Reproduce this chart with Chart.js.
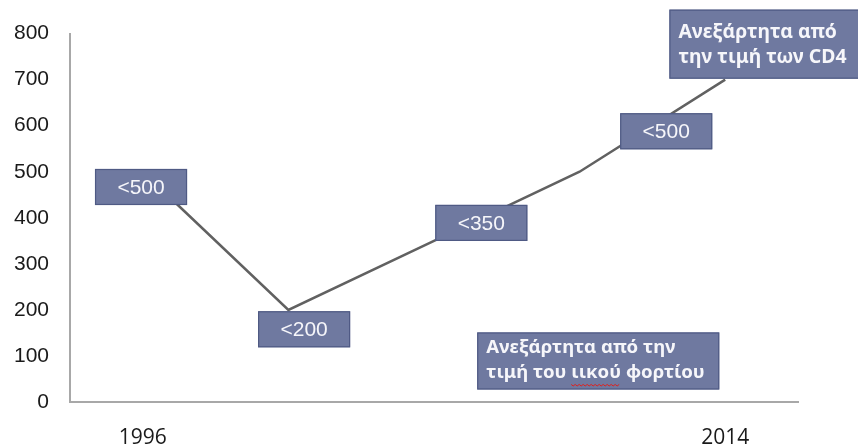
<!DOCTYPE html>
<html>
<head>
<meta charset="utf-8">
<script src="https://cdn.jsdelivr.net/npm/chart.js@4/dist/chart.umd.min.js"></script>
<style>
  html, body { margin: 0; padding: 0; background: #fff; }
  #wrap { width: 858px; height: 447px; }
</style>
</head>
<body>
<div id="wrap"><canvas id="chart"></canvas></div>
<script>
// data
const years = ['1996', '', '', '', '2014'];
const cd4 = [500, 200, 350, 500, 700];
const yTicks = [0, 100, 200, 300, 400, 500, 600, 700, 800];

// annotation boxes: x in category index, y in chart values
const boxLabels = ['<500', '<200', '<350', '<500'];
const boxX = [-0.328, 0.792, 2.009, 3.279];
const boxY = [506, 197, 428, 627];
const noteLines = [
    ['Ανεξάρτητα από', 'την τιμή των CD4'],
    ['Ανεξάρτητα από την', 'τιμή του ιικού φορτίου']
];
const noteX = [3.617, 2.297];
const noteY = [852, 151];

const FILL = '#6f79a0';
const EDGE = '#4f5a84';
const NOTE_FONT = '"Noto Sans", "Open Sans", sans-serif';

function drawBox(ctx, x, y, w, h) {
    ctx.fillStyle = FILL;
    ctx.fillRect(x, y, w, h);
    ctx.strokeStyle = EDGE;
    ctx.lineWidth = 1.2;
    ctx.strokeRect(x + 0.5, y + 0.5, w - 1, h - 1);
}

// pick a bold font size so the second line is about as wide as in the picture
function fitFont(ctx, text, width) {
    ctx.font = 'bold 20px ' + NOTE_FONT;
    const s = 20 * width / ctx.measureText(text).width;
    return 'bold ' + s.toFixed(1) + 'px ' + NOTE_FONT;
}

const boxesPlugin = {
    id: 'boxes',
    afterDatasetsDraw(chart) {
        const ctx = chart.ctx;
        const xs = chart.scales.x, ys = chart.scales.y;
        ctx.save();

        // small value boxes
        boxLabels.forEach((t, i) => {
            const x = xs.getPixelForValue(boxX[i]);
            const y = ys.getPixelForValue(boxY[i]);
            drawBox(ctx, x, y, 92, 36);
            ctx.fillStyle = '#f6f6fa';
            ctx.font = '21px "Liberation Sans", Arial, sans-serif';
            ctx.textAlign = 'center';
            ctx.textBaseline = 'middle';
            ctx.fillText(t, x + 46, y + 19);
        });

        // text notes
        const sizes = [[192, 69], [242, 57]];
        const textW = [168, 218];
        const firstBase = [28, 21];
        noteLines.forEach((lines, i) => {
            const x = xs.getPixelForValue(noteX[i]);
            const y = ys.getPixelForValue(noteY[i]);
            drawBox(ctx, x, y, sizes[i][0], sizes[i][1]);
            ctx.font = fitFont(ctx, lines[1], textW[i]);
            ctx.fillStyle = '#f6f6fa';
            ctx.textAlign = 'left';
            ctx.textBaseline = 'alphabetic';
            lines.forEach((ln, j) => {
                ctx.fillText(ln, x + 9, y + firstBase[i] + j * 25);
            });
        });

        // spell-check squiggle under the misspelled word
        const x2 = xs.getPixelForValue(noteX[1]) + 9;
        const y2 = ys.getPixelForValue(noteY[1]) + 21 + 25 + 6;
        const pre = ctx.measureText('τιμή του ').width;
        const wordW = ctx.measureText('ιικού').width;
        ctx.strokeStyle = '#e0201c';
        ctx.lineWidth = 1;
        ctx.beginPath();
        for (let k = 0; k <= wordW; k += 2) {
            const yy = y2 + ((k / 2) % 2 === 0 ? 0 : 1.5);
            if (k === 0) ctx.moveTo(x2 + pre + k, yy); else ctx.lineTo(x2 + pre + k, yy);
        }
        ctx.stroke();
        ctx.restore();
    }
};

new Chart(document.getElementById('chart'), {
    type: 'line',
    data: {
        labels: years,
        datasets: [{
            data: cd4,
            borderColor: '#616161',
            borderWidth: 2.5,
            pointRadius: 0,
            tension: 0
        }]
    },
    options: {
        responsive: true,
        maintainAspectRatio: false,
        animation: false,
        layout: { padding: { top: 32, right: 60, left: 0, bottom: 0 } },
        plugins: {
            legend: { display: false },
            tooltip: { enabled: false }
        },
        scales: {
            x: {
                offset: true,
                grid: { color: 'transparent', drawTicks: false },
                border: { color: '#a8a8a8', width: 2 },
                ticks: {
                    autoSkip: false,
                    maxRotation: 0,
                    padding: 23,
                    color: '#1a1a1a',
                    font: { family: '"Open Sans", sans-serif', size: 21 }
                },
                afterFit(s) { s.height = 45; }
            },
            y: {
                min: 0,
                max: 800,
                afterBuildTicks(s) { s.ticks = yTicks.map(v => ({ value: v })); },
                grid: { color: 'transparent', drawTicks: false },
                border: { color: '#a8a8a8', width: 2 },
                ticks: {
                    padding: 21,
                    color: '#1a1a1a',
                    font: { family: '"Liberation Sans", Arial, sans-serif', size: 21 }
                },
                afterFit(s) { s.width = 70; }
            }
        }
    },
    plugins: [boxesPlugin]
});
</script>
</body>
</html>
